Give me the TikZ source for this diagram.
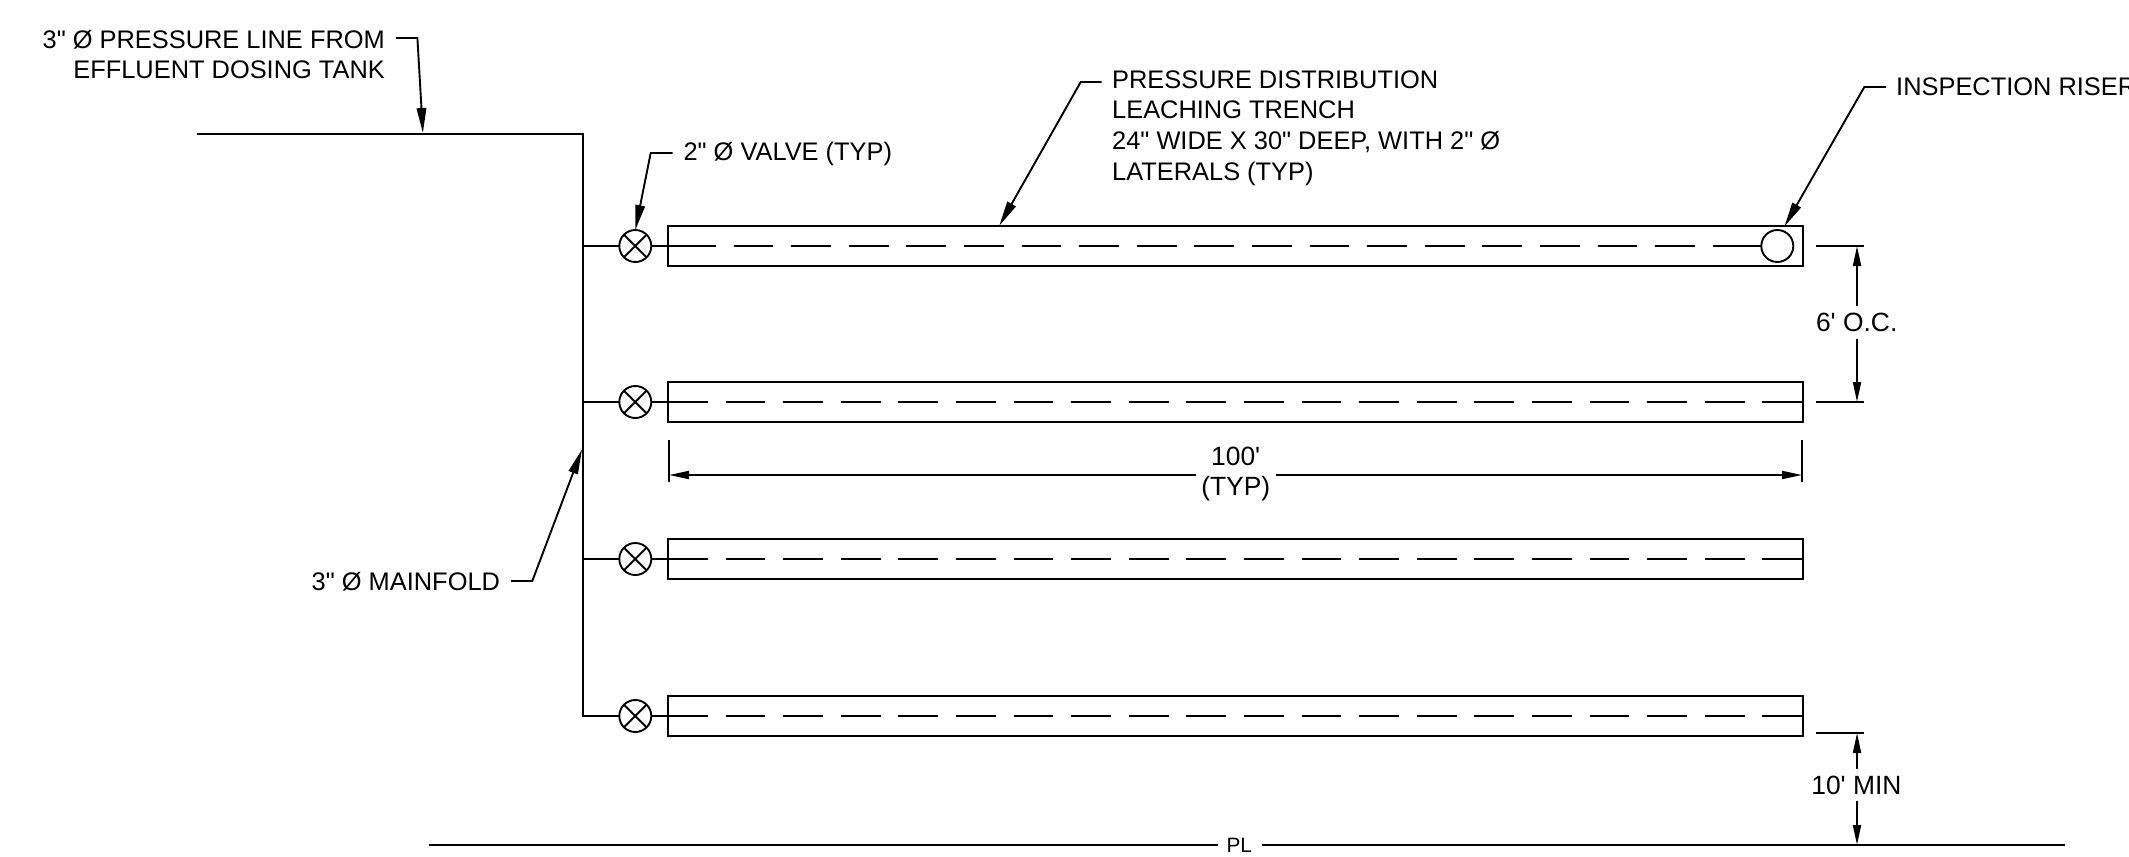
\documentclass[tikz,border=0pt]{standalone}
\usepackage{fontspec}
\newfontfamily\lib{Liberation Sans}
\usetikzlibrary{arrows.meta}
\tikzset{
  ln/.style={line width=0.95pt,black},
  lbl/.style={inner sep=0pt,outer sep=0pt,font=\lib\fontsize{12.7}{15.35}\selectfont,text=black},
  dimlbl/.style={inner sep=0pt,outer sep=0pt,font=\lib\fontsize{13.2}{15.35}\selectfont,text=black},
  leader/.style={ln,line join=miter,-{Triangle[length=12.5pt,width=4.75pt]}},
  dimline/.style={ln,-{Triangle[length=10pt,width=4pt]}},
  trench/.style={ln,draw,rectangle,inner sep=0pt,outer sep=0pt,minimum width=567.5pt,minimum height=19.6pt},
  valve/.style={ln,draw,circle,inner sep=0pt,outer sep=0pt,minimum size=16pt,
    path picture={\draw[ln] (path picture bounding box.north west) -- (path picture bounding box.south east)
      (path picture bounding box.north east) -- (path picture bounding box.south west);}},
  riser/.style={ln,draw,circle,inner sep=0pt,outer sep=0pt,minimum size=16pt},
  lateral/.style={ln,dash pattern=on 19.85pt off 8.95pt}
}
\begin{document}
\begin{tikzpicture}[x=0.5pt,y=-0.5pt]
\useasboundingbox (0,0) rectangle (2129,856);
\clip (0,0) rectangle (2129,856);
% trenches
\foreach \n/\yy in {1/246,2/402,3/559,4/716}{
  \node[trench] (t\n) at (1235.5,\yy) {};
  \node[valve] (v\n) at (635.3,\yy) {};
  \coordinate (m\n) at (583,\yy);
  \draw[ln] (m\n) -- (v\n.west);
}
% riser
\node[riser] (r1) at (1777.3,246) {};
% laterals
\coordinate (s1) at (676,246);
\coordinate (s2) at (1714,246);
\draw[ln] (v1.east) -- (s1);
\draw[lateral] (s1) -- (s2);
\draw[ln] (s2) -- (r1.west);
\foreach \n in {2,3,4}{
  \draw[ln] (v\n.east) -- (t\n.west);
  \draw[lateral] (t\n.west) -- (t\n.east);
}
% main
\coordinate (p0) at (196.5,134);
\coordinate (p1) at (583,134);
\draw[ln,line join=miter] (p0) -- (p1) -- (m4) -- (v4.west);
% pressure line label
\node[lbl,align=right,anchor=east] (a) at (384.8,54.5) {3" Ø PRESSURE LINE FROM\\EFFLUENT DOSING TANK};
\coordinate (a1) at (395.8,38);
\coordinate (a2) at (417.4,38);
\coordinate (a3) at (422.9,133);
\draw[leader] (a1) -- (a2) -- (a3);
% valve label
\node[lbl,anchor=west] (b) at (683.5,153.5) {2" Ø VALVE (TYP)};
\coordinate (b1) at (672.7,153);
\coordinate (b2) at (650.7,153);
\draw[leader] (b1) -- (b2) -- (v1.north);
% trench label
\node[lbl,align=left,anchor=west] (c) at (1112.2,128) {PRESSURE DISTRIBUTION\\LEACHING TRENCH\\24" WIDE X 30" DEEP, WITH 2" Ø\\LATERALS (TYP)};
\coordinate (c1) at (1101.7,82);
\coordinate (c2) at (1080.7,82);
\coordinate (c3) at (999.3,225.7);
\draw[leader] (c1) -- (c2) -- (c3);
% inspection riser label
\node[lbl,anchor=west] (d) at (1896.2,87) {INSPECTION RISER};
\coordinate (d1) at (1886,87);
\coordinate (d2) at (1864.3,87);
\coordinate (d3) at (1784.3,226.7);
\draw[leader] (d1) -- (d2) -- (d3);
% manifold label
\node[lbl,anchor=east] (e) at (500,582) {3" Ø MAINFOLD};
\coordinate (e1) at (511,581);
\coordinate (e2) at (532.3,581);
\coordinate (e3) at (582,449.3);
\draw[leader] (e1) -- (e2) -- (e3);
% 100' dimension
\node[dimlbl,align=center] (f) at (1235.7,474) {100'\\(TYP)};
\coordinate (f0) at (669,440); \coordinate (f1) at (669,482.3);
\coordinate (f2) at (1802,440); \coordinate (f3) at (1802,482.3);
\draw[ln] (f0) -- (f1);
\draw[ln] (f2) -- (f3);
\coordinate (f4) at (1196,475); \coordinate (f5) at (1275.7,475);
\coordinate (f6) at (669,475); \coordinate (f7) at (1802,475);
\draw[dimline] (f4) -- (f6);
\draw[dimline] (f5) -- (f7);
% 6' O.C.
\node[dimlbl] (g) at (1856.7,322.7) {6' O.C.};
\coordinate (g0) at (1815.7,246); \coordinate (g1) at (1864,246);
\coordinate (g2) at (1816.3,402); \coordinate (g3) at (1864,402);
\draw[ln] (g0) -- (g1);
\draw[ln] (g2) -- (g3);
\coordinate (g4) at (1857,306); \coordinate (g5) at (1857,246);
\coordinate (g6) at (1857,338.7); \coordinate (g7) at (1857,402);
\draw[dimline] (g4) -- (g5);
\draw[dimline] (g6) -- (g7);
% 10' MIN
\node[dimlbl] (h) at (1856.4,785.7) {10' MIN};
\coordinate (h0) at (1815.7,733); \coordinate (h1) at (1864,733);
\coordinate (h2) at (1816.3,845); \coordinate (h3) at (1864,845);
\draw[ln] (h0) -- (h1);
\draw[ln] (h2) -- (h3);
\coordinate (h4) at (1857,769.3); \coordinate (h5) at (1857,733);
\coordinate (h6) at (1857,801); \coordinate (h7) at (1857,845);
\draw[dimline] (h4) -- (h5);
\draw[dimline] (h6) -- (h7);
% property line
\node[lbl,font=\lib\fontsize{10.4}{12}\selectfont] (pl) at (1239.3,845.7) {PL};
\coordinate (l0) at (429,845); \coordinate (l1) at (1218.3,845);
\coordinate (l2) at (1262.3,845); \coordinate (l3) at (2065.3,845);
\draw[ln] (l0) -- (l1);
\draw[ln] (l2) -- (l3);
\end{tikzpicture}
\end{document}
